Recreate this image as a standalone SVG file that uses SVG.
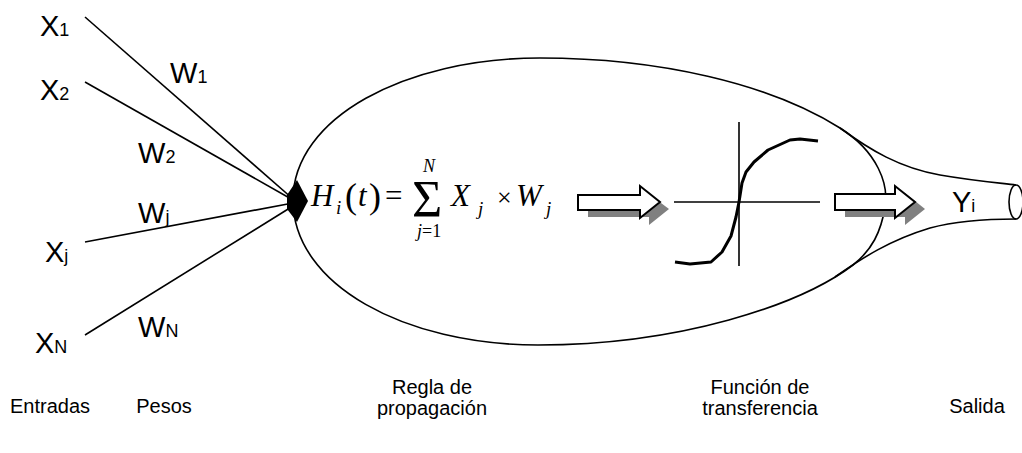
<svg xmlns="http://www.w3.org/2000/svg" width="1022" height="453" viewBox="0 0 1022 453">
<style>
.ln{stroke:#000;stroke-width:1.6;fill:none}
.lbl{font-family:"Liberation Sans",Arial,sans-serif;fill:#000}
.big{font-size:29px}
.sub{font-size:18px}
.cap{font-size:20px;text-anchor:middle}
.m{font-family:"Liberation Serif","Times New Roman",serif;fill:#000}
.it{font-style:italic}
.sh{fill:#808080;stroke:none}
.ar{fill:#fff;stroke:#000;stroke-width:2}
</style>
<rect width="1022" height="453" fill="#fff"/>
<g id="neuron">
<path class="ln" d="M 293,200 C 293,118 405,58 540,58 C 660,58 770,84 840,128 C 878,152 889,185 885,207 C 881,232 872,250 853,265 C 800,305 680,345 538,345 C 405,345 293,285 293,200 Z"/>
<path class="ln" d="M 840,128 C 870,150 900,168 940,175 C 975,181 1000,183 1016,185"/>
<path class="ln" d="M 835,277 C 862,258 890,240 930,228 C 960,220 990,219 1016,219"/>
<ellipse class="ln" cx="1016" cy="202" rx="7" ry="17"/>
</g>
<g id="connectors">
<line class="ln" x1="85" y1="17" x2="293" y2="199"/>
<line class="ln" x1="85" y1="82" x2="293" y2="200"/>
<line class="ln" x1="85" y1="242" x2="293" y2="203"/>
<line class="ln" x1="85" y1="335" x2="293" y2="206"/>
<polygon points="287,195 297,180 308,201 297,222 287,209" fill="#000"/>
</g>
<g id="inputs" class="lbl">
<text x="40" y="36"><tspan class="big">X</tspan><tspan class="sub">1</tspan></text>
<text x="40" y="100"><tspan class="big">X</tspan><tspan class="sub">2</tspan></text>
<text x="45" y="262"><tspan class="big">X</tspan><tspan class="sub">j</tspan></text>
<text x="35" y="353"><tspan class="big">X</tspan><tspan class="sub">N</tspan></text>
</g>
<g id="weights" class="lbl">
<text x="170" y="83"><tspan class="big">W</tspan><tspan class="sub">1</tspan></text>
<text x="138" y="163"><tspan class="big">W</tspan><tspan class="sub">2</tspan></text>
<text x="138" y="223"><tspan class="big">W</tspan><tspan class="sub">j</tspan></text>
<text x="138" y="337"><tspan class="big">W</tspan><tspan class="sub">N</tspan></text>
</g>
<g id="formula">
<text class="m it" x="311" y="206" font-size="31">H</text>
<text class="m it" x="336" y="214" font-size="19">i</text>
<text class="m" x="345" y="208" font-size="36">(</text>
<text class="m it" x="358" y="206" font-size="31">t</text>
<text class="m" x="369" y="208" font-size="36">)</text>
<text class="m" x="385" y="206" font-size="31">=</text>
<text class="m" x="412" y="217" font-size="52">Σ</text>
<text class="m it" x="423" y="172" font-size="18">N</text>
<text class="m" x="417" y="237" font-size="18"><tspan font-style="italic">j</tspan>=1</text>
<text class="m it" x="451" y="206" font-size="31">X</text>
<text class="m it" x="478" y="215" font-size="19">j</text>
<text class="m" x="497" y="206" font-size="26">×</text>
<text class="m it" x="516" y="206" font-size="31">W</text>
<text class="m it" x="546" y="215" font-size="19">j</text>
</g>
<g id="arrow1">
<polygon class="sh" points="588,202 649,202 649,194 669,209 649,225 649,217 588,217"/>
<polygon class="ar" points="578,195 640,195 640,186 660,202 640,218 640,210 578,210"/>
</g>
<g id="transfer">
<line class="ln" x1="674" y1="202" x2="820" y2="202"/>
<line class="ln" x1="739" y1="122" x2="739" y2="266"/>
<polyline fill="none" stroke="#000" stroke-width="3" stroke-linejoin="round" points="675,262 690,264 711,262 722,252 731,236 736,217 739,202 742,183 746,172 754,162 768,150 790,140 800,139 818,141"/>
</g>
<g id="arrow2">
<polygon class="sh" points="845,201 905,201 905,193 925,209 905,225 905,217 845,217"/>
<polygon class="ar" points="835,194 895,194 895,186 915,202 895,218 895,210 835,210"/>
</g>
<g id="output" class="lbl">
<text x="952" y="212"><tspan class="big">Y</tspan><tspan class="sub">i</tspan></text>
</g>
<g id="captions" class="lbl">
<text class="cap" x="50" y="413">Entradas</text>
<text class="cap" x="164" y="413">Pesos</text>
<text class="cap" x="432" y="394">Regla de</text>
<text class="cap" x="432" y="415">propagación</text>
<text class="cap" x="760" y="394">Función de</text>
<text class="cap" x="760" y="415">transferencia</text>
<text class="cap" x="977" y="413">Salida</text>
</g>
</svg>
